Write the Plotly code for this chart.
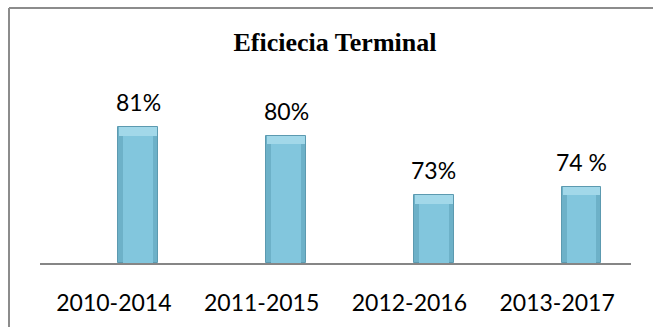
import plotly.graph_objects as go

# Cohort periods and terminal efficiency (%)
periods = ["2010-2014", "2011-2015", "2012-2016", "2013-2017"]
efficiency = [81, 80, 73, 74]
value_labels = ["81%", "80%", "73%", "74 %"]

W, H = 653, 327
L, R, T, B = 40, 22, 60, 64
plot_w = W - L - R
plot_h = H - T - B
y_min = 65
px_per_unit = 8.5
y_max = y_min + plot_h / px_per_unit
cat_px = plot_w / len(periods)

bar_w = 0.27
bar_off = 0.03
bevel = 0.035  # horizontal bevel, in category units
cap = 1.0      # top bevel height, in value units

label_font = dict(family="Lato, 'Open Sans', sans-serif", size=23, color="#000000")

fig = go.Figure()

# Outer body (side bevels)
fig.add_trace(go.Bar(
    x=periods,
    y=[v - y_min for v in efficiency],
    base=y_min,
    width=bar_w,
    offset=bar_off,
    marker=dict(color="#6DB1C8", line=dict(color="#5C9AB0", width=1)),
    hoverinfo="skip",
))

# Light top bevel
fig.add_trace(go.Bar(
    x=periods,
    y=[cap] * len(efficiency),
    base=[v - cap for v in efficiency],
    width=bar_w - 0.016,
    offset=bar_off + 0.008,
    marker=dict(color="#A2D8E9", line=dict(width=0)),
    hoverinfo="skip",
))

# Main face
fig.add_trace(go.Bar(
    x=periods,
    y=[v - cap - y_min for v in efficiency],
    base=y_min,
    width=bar_w - 2 * bevel,
    offset=bar_off + bevel,
    marker=dict(color="#82C6DD", line=dict(width=0)),
    hoverinfo="skip",
))

# Value labels above each bar
for p, v, lab in zip(periods, efficiency, value_labels):
    fig.add_annotation(
        x=p, y=v, text=lab, showarrow=False,
        xanchor="center", yanchor="bottom",
        xshift=(bar_off + bar_w / 2) * cat_px,
        yshift=9,
        font=label_font,
    )

# Frame (top and left edges of the chart box)
fx0 = (9 - L) / plot_w
fx1 = (W - L) / plot_w
fy_top = (H - B - 8) / plot_h
fy_bot = (H - B - H) / plot_h
fig.add_shape(type="line", xref="paper", yref="paper", x0=fx0, x1=fx1, y0=fy_top, y1=fy_top,
              line=dict(color="#8C8C8C", width=2))
fig.add_shape(type="line", xref="paper", yref="paper", x0=fx0, x1=fx0, y0=fy_top, y1=fy_bot,
              line=dict(color="#8C8C8C", width=2))

fig.update_layout(
    width=W, height=H,
    margin=dict(l=L, r=R, t=T, b=B),
    paper_bgcolor="white",
    plot_bgcolor="white",
    showlegend=False,
    barmode="overlay",
    bargap=0,
    title=dict(
        text="<b>Eficiecia Terminal</b>",
        font=dict(family="'Liberation Serif', 'Times New Roman', serif", size=26, color="#000000"),
        x=335 / W, xanchor="center",
        y=1 - 51 / H, yanchor="bottom",
        pad=dict(b=0),
    ),
    xaxis=dict(
        type="category",
        range=[-0.5, 3.5],
        showgrid=False,
        showline=True,
        linecolor="#868686",
        linewidth=2,
        ticks="",
        tickfont=label_font,
        ticklabelstandoff=18,
        fixedrange=True,
    ),
    yaxis=dict(
        range=[y_min, y_max],
        visible=False,
        fixedrange=True,
    ),
)

fig.write_html("out.html")
